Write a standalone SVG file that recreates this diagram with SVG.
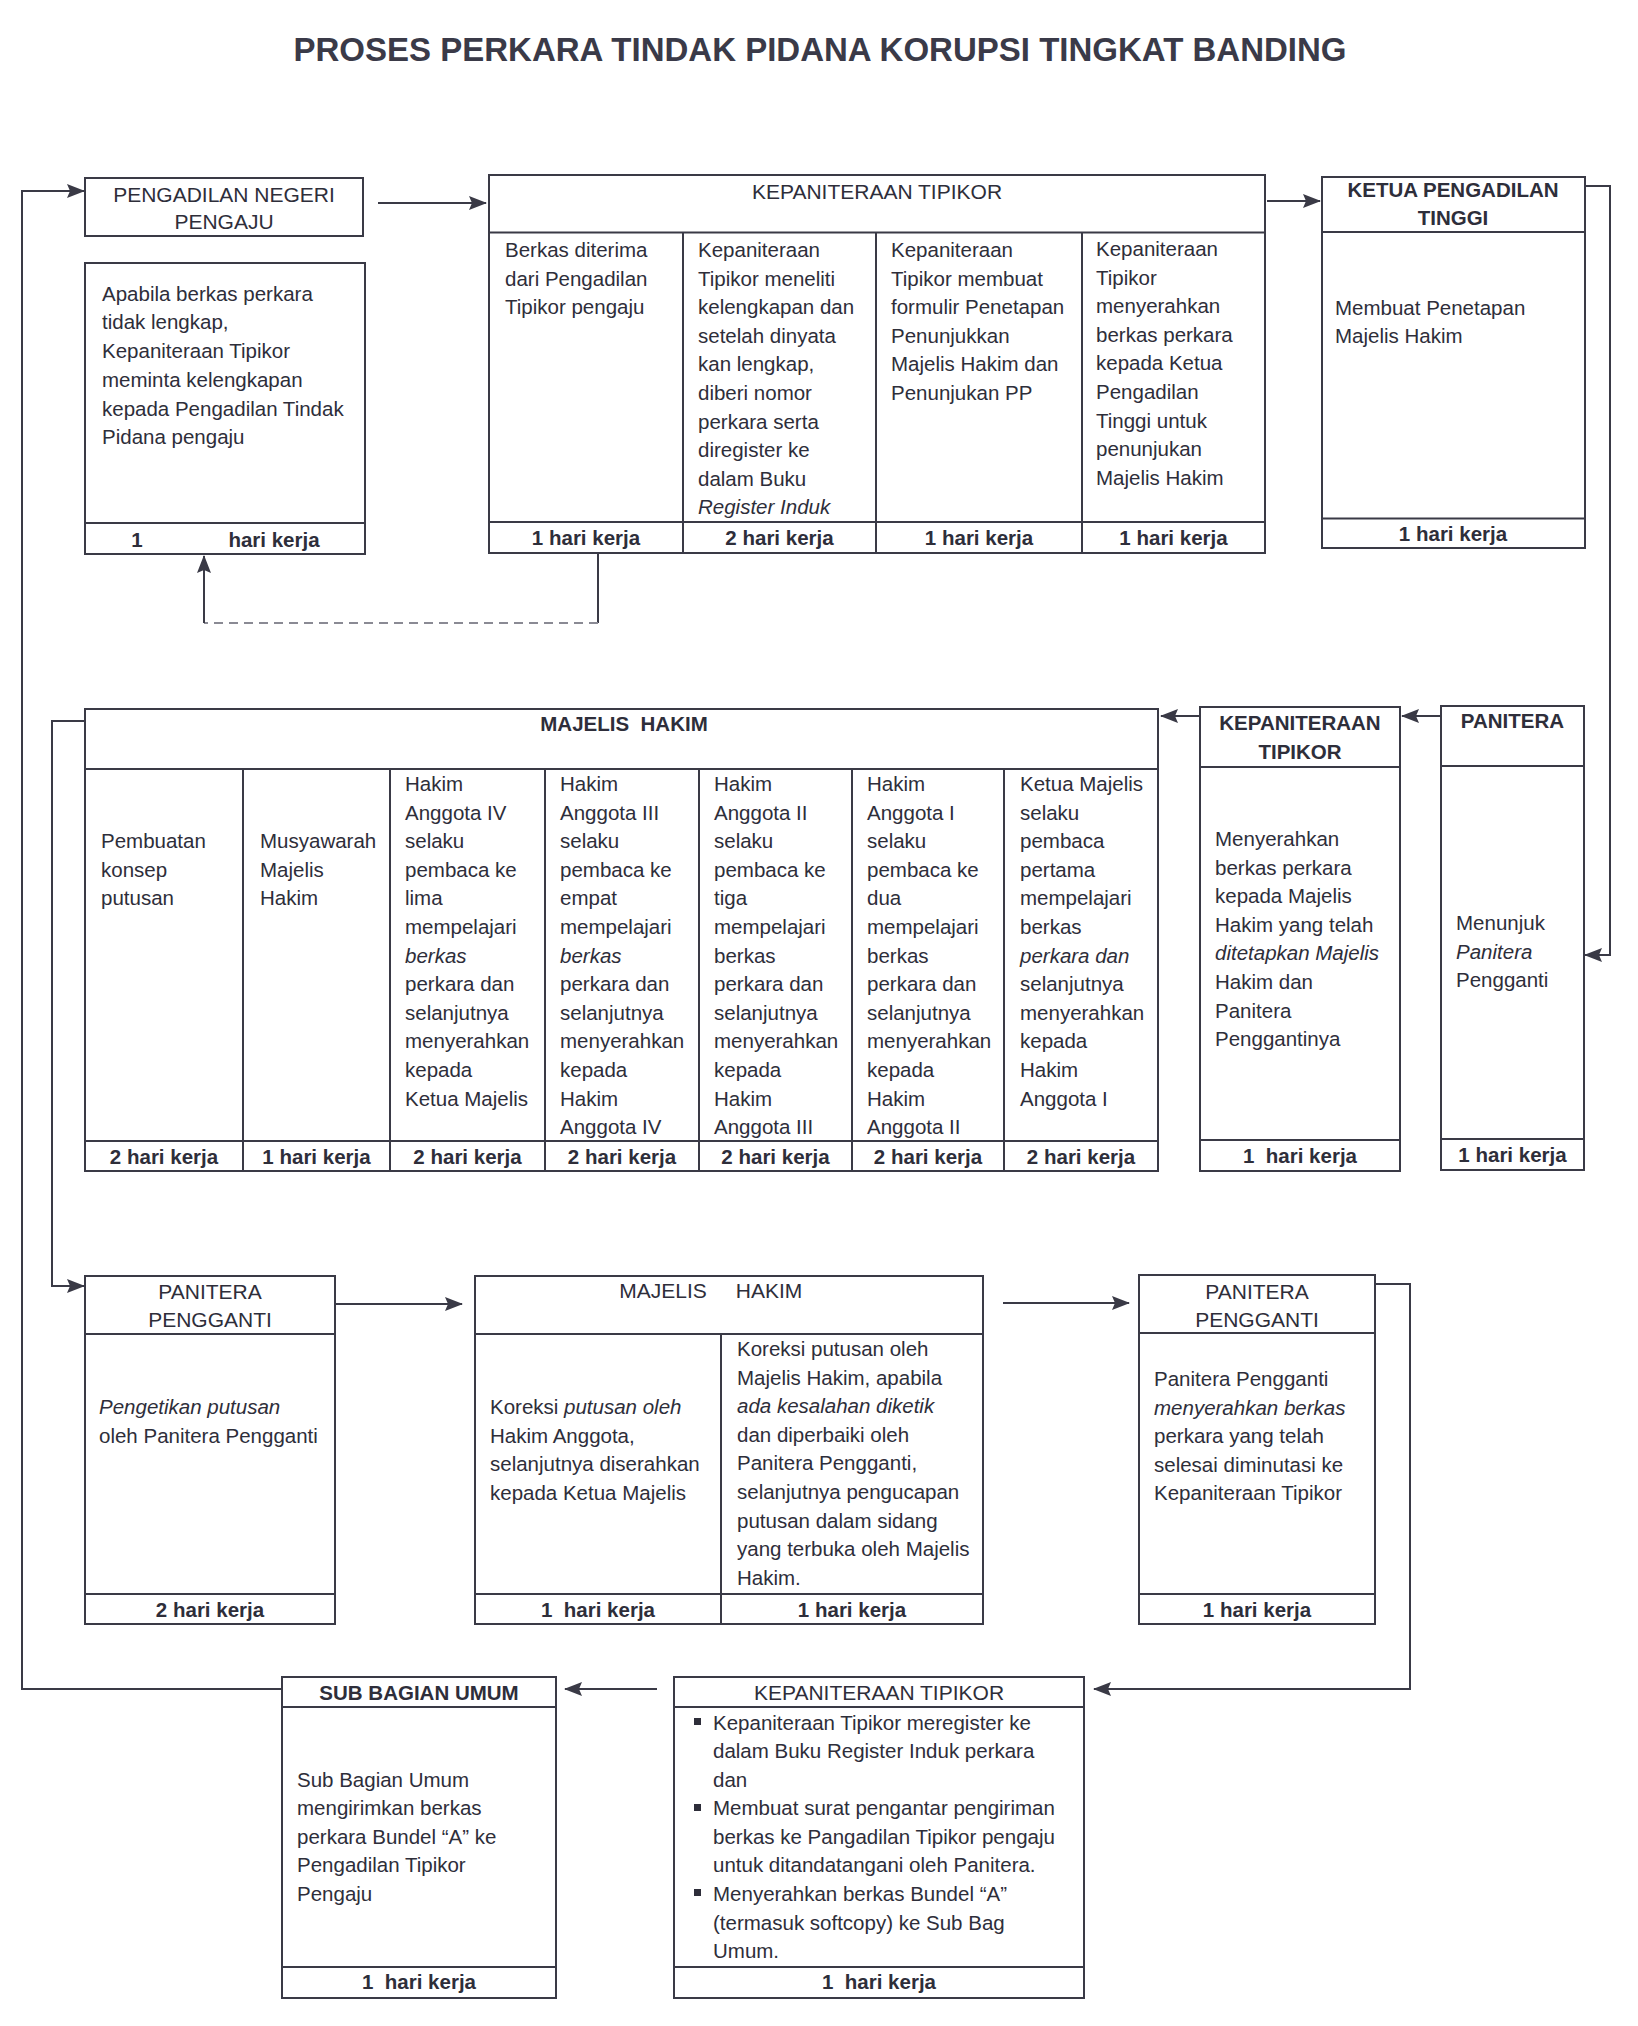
<svg xmlns="http://www.w3.org/2000/svg" width="1638" height="2026" viewBox="0 0 1638 2026">
<defs>
<marker id="ah" markerUnits="userSpaceOnUse" markerWidth="18" markerHeight="14" refX="17" refY="7" orient="auto"><path d="M0,0 L18,7 L0,14 L3,7 z" fill="#3a3a46"/></marker>
</defs>
<style>
.box{fill:#fff;stroke:#3a3a46;stroke-width:2}
.ln{stroke:#3a3a46;stroke-width:2;fill:none}
.dash{stroke:#8a8a94;stroke-width:2;fill:none;stroke-dasharray:9 6}
text{font-family:"Liberation Sans",Arial,sans-serif;fill:#2e2e3a;font-size:20.5px}
.title{font-size:33px;font-weight:bold;text-anchor:middle;fill:#3a3a48}
.h{font-size:21px;text-anchor:middle}
.hb{font-size:20.5px;font-weight:bold;text-anchor:middle}
.f{font-weight:bold;text-anchor:middle}
.i{font-style:italic}
</style>
<rect width="1638" height="2026" fill="#fff"/>
<text class="title" x="820" y="61">PROSES PERKARA TINDAK PIDANA KORUPSI TINGKAT BANDING</text>

<g id="connectors">
<polyline class="ln" points="282,1689 22,1689 22,191 84,191" marker-end="url(#ah)"/>
<line class="ln" x1="378" y1="203" x2="486" y2="203" marker-end="url(#ah)"/>
<line class="ln" x1="1267" y1="201" x2="1320" y2="201" marker-end="url(#ah)"/>
<polyline class="ln" points="1585,186 1610,186 1610,955 1585,955" marker-end="url(#ah)"/>
<line class="ln" x1="1440" y1="716" x2="1402" y2="716" marker-end="url(#ah)"/>
<line class="ln" x1="1200" y1="716" x2="1161" y2="716" marker-end="url(#ah)"/>
<polyline class="ln" points="85,721 52,721 52,1286 84,1286" marker-end="url(#ah)"/>
<line class="ln" x1="335" y1="1304" x2="462" y2="1304" marker-end="url(#ah)"/>
<line class="ln" x1="1003" y1="1303" x2="1129" y2="1303" marker-end="url(#ah)"/>
<polyline class="ln" points="1375,1284 1410,1284 1410,1689 1094,1689" marker-end="url(#ah)"/>
<line class="ln" x1="657" y1="1689" x2="565" y2="1689" marker-end="url(#ah)"/>
<polyline class="ln" points="598,553 598,623"/>
<polyline class="dash" points="598,623 204,623"/>
<polyline class="ln" points="204,623 204,556" marker-end="url(#ah)"/>
</g>

<g id="pengadilan-negeri">
<rect class="box" x="85" y="178" width="278" height="58"/>
<text class="h" x="224" y="201.5">PENGADILAN NEGERI</text>
<text class="h" x="224" y="229">PENGAJU</text>
<rect class="box" x="85" y="263" width="280" height="291"/>
<line class="ln" x1="85" y1="523" x2="365" y2="523"/>
<text x="102" y="300.7">Apabila berkas perkara</text>
<text x="102" y="329.4">tidak lengkap,</text>
<text x="102" y="358.1">Kepaniteraan Tipikor</text>
<text x="102" y="386.8">meminta kelengkapan</text>
<text x="102" y="415.5">kepada Pengadilan Tindak</text>
<text x="102" y="444.2">Pidana pengaju</text>
<text class="f" x="137" y="546.5">1</text>
<text class="f" x="274" y="546.5">hari kerja</text>
</g>

<g id="kepaniteraan-tipikor-1">
<rect class="box" x="489" y="175" width="776" height="378"/>
<line class="ln" x1="489" y1="232.5" x2="1265" y2="232.5"/>
<line class="ln" x1="489" y1="522" x2="1265" y2="522"/>
<line class="ln" x1="683" y1="232.5" x2="683" y2="553"/>
<line class="ln" x1="876" y1="232.5" x2="876" y2="553"/>
<line class="ln" x1="1082" y1="232.5" x2="1082" y2="553"/>
<text class="h" x="877" y="199">KEPANITERAAN TIPIKOR</text>
<text x="505" y="257">Berkas diterima</text>
<text x="505" y="285.6">dari Pengadilan</text>
<text x="505" y="314.2">Tipikor pengaju</text>
<text x="698" y="257">Kepaniteraan</text>
<text x="698" y="285.6">Tipikor meneliti</text>
<text x="698" y="314.2">kelengkapan dan</text>
<text x="698" y="342.8">setelah dinyata</text>
<text x="698" y="371.4">kan lengkap,</text>
<text x="698" y="400">diberi nomor</text>
<text x="698" y="428.6">perkara serta</text>
<text x="698" y="457.2">diregister ke</text>
<text x="698" y="485.8">dalam Buku</text>
<text class="i" x="698" y="514.4">Register Induk</text>
<text x="891" y="257">Kepaniteraan</text>
<text x="891" y="285.6">Tipikor membuat</text>
<text x="891" y="314.2">formulir Penetapan</text>
<text x="891" y="342.8">Penunjukkan</text>
<text x="891" y="371.4">Majelis Hakim dan</text>
<text x="891" y="400">Penunjukan PP</text>
<text x="1096" y="256">Kepaniteraan</text>
<text x="1096" y="284.6">Tipikor</text>
<text x="1096" y="313.2">menyerahkan</text>
<text x="1096" y="341.8">berkas perkara</text>
<text x="1096" y="370.4">kepada Ketua</text>
<text x="1096" y="399">Pengadilan</text>
<text x="1096" y="427.6">Tinggi untuk</text>
<text x="1096" y="456.2">penunjukan</text>
<text x="1096" y="484.8">Majelis Hakim</text>
<text class="f" x="586" y="545">1 hari kerja</text>
<text class="f" x="779.5" y="545">2 hari kerja</text>
<text class="f" x="979" y="545">1 hari kerja</text>
<text class="f" x="1173.5" y="545">1 hari kerja</text>
</g>

<g id="ketua-pengadilan-tinggi">
<rect class="box" x="1322" y="177" width="263" height="371"/>
<line class="ln" x1="1322" y1="232" x2="1585" y2="232"/>
<line class="ln" x1="1322" y1="518.5" x2="1585" y2="518.5"/>
<text class="hb" x="1453" y="196.5">KETUA PENGADILAN</text>
<text class="hb" x="1453" y="224.5">TINGGI</text>
<text x="1335" y="314.7">Membuat Penetapan</text>
<text x="1335" y="343">Majelis Hakim</text>
<text class="f" x="1453" y="541">1 hari kerja</text>
</g>

<g id="majelis-hakim-1">
<rect class="box" x="85" y="709" width="1073" height="462"/>
<line class="ln" x1="85" y1="769" x2="1158" y2="769"/>
<line class="ln" x1="85" y1="1141" x2="1158" y2="1141"/>
<line class="ln" x1="243" y1="769" x2="243" y2="1171"/>
<line class="ln" x1="390" y1="769" x2="390" y2="1171"/>
<line class="ln" x1="545" y1="769" x2="545" y2="1171"/>
<line class="ln" x1="699" y1="769" x2="699" y2="1171"/>
<line class="ln" x1="852" y1="769" x2="852" y2="1171"/>
<line class="ln" x1="1004" y1="769" x2="1004" y2="1171"/>
<text class="hb" x="624" y="731">MAJELIS&#160; HAKIM</text>
<text x="101" y="848.2">Pembuatan</text>
<text x="101" y="876.8">konsep</text>
<text x="101" y="905.4">putusan</text>
<text x="260" y="848.2">Musyawarah</text>
<text x="260" y="876.8">Majelis</text>
<text x="260" y="905.4">Hakim</text>
<text x="405" y="791">Hakim</text>
<text x="405" y="819.6">Anggota IV</text>
<text x="405" y="848.2">selaku</text>
<text x="405" y="876.8">pembaca ke</text>
<text x="405" y="905.4">lima</text>
<text x="405" y="934">mempelajari</text>
<text class="i" x="405" y="962.6">berkas</text>
<text x="405" y="991.2">perkara dan</text>
<text x="405" y="1019.8">selanjutnya</text>
<text x="405" y="1048.4">menyerahkan</text>
<text x="405" y="1077">kepada</text>
<text x="405" y="1105.6">Ketua Majelis</text>
<text x="560" y="791">Hakim</text>
<text x="560" y="819.6">Anggota III</text>
<text x="560" y="848.2">selaku</text>
<text x="560" y="876.8">pembaca ke</text>
<text x="560" y="905.4">empat</text>
<text x="560" y="934">mempelajari</text>
<text class="i" x="560" y="962.6">berkas</text>
<text x="560" y="991.2">perkara dan</text>
<text x="560" y="1019.8">selanjutnya</text>
<text x="560" y="1048.4">menyerahkan</text>
<text x="560" y="1077">kepada</text>
<text x="560" y="1105.6">Hakim</text>
<text x="560" y="1134.2">Anggota IV</text>
<text x="714" y="791">Hakim</text>
<text x="714" y="819.6">Anggota II</text>
<text x="714" y="848.2">selaku</text>
<text x="714" y="876.8">pembaca ke</text>
<text x="714" y="905.4">tiga</text>
<text x="714" y="934">mempelajari</text>
<text x="714" y="962.6">berkas</text>
<text x="714" y="991.2">perkara dan</text>
<text x="714" y="1019.8">selanjutnya</text>
<text x="714" y="1048.4">menyerahkan</text>
<text x="714" y="1077">kepada</text>
<text x="714" y="1105.6">Hakim</text>
<text x="714" y="1134.2">Anggota III</text>
<text x="867" y="791">Hakim</text>
<text x="867" y="819.6">Anggota I</text>
<text x="867" y="848.2">selaku</text>
<text x="867" y="876.8">pembaca ke</text>
<text x="867" y="905.4">dua</text>
<text x="867" y="934">mempelajari</text>
<text x="867" y="962.6">berkas</text>
<text x="867" y="991.2">perkara dan</text>
<text x="867" y="1019.8">selanjutnya</text>
<text x="867" y="1048.4">menyerahkan</text>
<text x="867" y="1077">kepada</text>
<text x="867" y="1105.6">Hakim</text>
<text x="867" y="1134.2">Anggota II</text>
<text x="1020" y="791">Ketua Majelis</text>
<text x="1020" y="819.6">selaku</text>
<text x="1020" y="848.2">pembaca</text>
<text x="1020" y="876.8">pertama</text>
<text x="1020" y="905.4">mempelajari</text>
<text x="1020" y="934">berkas</text>
<text class="i" x="1020" y="962.6">perkara dan</text>
<text x="1020" y="991.2">selanjutnya</text>
<text x="1020" y="1019.8">menyerahkan</text>
<text x="1020" y="1048.4">kepada</text>
<text x="1020" y="1077">Hakim</text>
<text x="1020" y="1105.6">Anggota I</text>
<text class="f" x="164" y="1164">2 hari kerja</text>
<text class="f" x="316.5" y="1164">1 hari kerja</text>
<text class="f" x="467.5" y="1164">2 hari kerja</text>
<text class="f" x="622" y="1164">2 hari kerja</text>
<text class="f" x="775.5" y="1164">2 hari kerja</text>
<text class="f" x="928" y="1164">2 hari kerja</text>
<text class="f" x="1081" y="1164">2 hari kerja</text>
</g>

<g id="kepaniteraan-tipikor-2">
<rect class="box" x="1200" y="707" width="200" height="464"/>
<line class="ln" x1="1200" y1="767" x2="1400" y2="767"/>
<line class="ln" x1="1200" y1="1140" x2="1400" y2="1140"/>
<text class="hb" x="1300" y="730">KEPANITERAAN</text>
<text class="hb" x="1300" y="758.5">TIPIKOR</text>
<text x="1215" y="846">Menyerahkan</text>
<text x="1215" y="874.6">berkas perkara</text>
<text x="1215" y="903.2">kepada Majelis</text>
<text x="1215" y="931.8">Hakim yang telah</text>
<text class="i" x="1215" y="960.4">ditetapkan Majelis</text>
<text x="1215" y="989">Hakim dan</text>
<text x="1215" y="1017.6">Panitera</text>
<text x="1215" y="1046.2">Penggantinya</text>
<text class="f" x="1300" y="1163">1&#160; hari kerja</text>
</g>

<g id="panitera">
<rect class="box" x="1441" y="706" width="143" height="464"/>
<line class="ln" x1="1441" y1="766" x2="1584" y2="766"/>
<line class="ln" x1="1441" y1="1139" x2="1584" y2="1139"/>
<text class="hb" x="1512.5" y="728">PANITERA</text>
<text x="1456" y="930">Menunjuk</text>
<text class="i" x="1456" y="958.6">Panitera</text>
<text x="1456" y="987.2">Pengganti</text>
<text class="f" x="1512.5" y="1162">1 hari kerja</text>
</g>

<g id="panitera-pengganti-1">
<rect class="box" x="85" y="1276" width="250" height="348"/>
<line class="ln" x1="85" y1="1334" x2="335" y2="1334"/>
<line class="ln" x1="85" y1="1594" x2="335" y2="1594"/>
<text class="h" x="210" y="1299">PANITERA</text>
<text class="h" x="210" y="1327">PENGGANTI</text>
<text class="i" x="99" y="1414">Pengetikan putusan</text>
<text x="99" y="1442.6">oleh Panitera Pengganti</text>
<text class="f" x="210" y="1617">2 hari kerja</text>
</g>

<g id="majelis-hakim-2">
<rect class="box" x="475" y="1276" width="508" height="348"/>
<line class="ln" x1="475" y1="1334" x2="983" y2="1334"/>
<line class="ln" x1="475" y1="1594" x2="983" y2="1594"/>
<line class="ln" x1="721" y1="1334" x2="721" y2="1624"/>
<text class="h" x="663" y="1298">MAJELIS</text>
<text class="h" x="769" y="1298">HAKIM</text>
<text x="490" y="1414">Koreksi <tspan class="i">putusan oleh</tspan></text>
<text x="490" y="1442.6">Hakim Anggota,</text>
<text x="490" y="1471.2">selanjutnya diserahkan</text>
<text x="490" y="1499.8">kepada Ketua Majelis</text>
<text x="737" y="1356">Koreksi putusan oleh</text>
<text x="737" y="1384.6">Majelis Hakim, apabila</text>
<text class="i" x="737" y="1413.2">ada kesalahan diketik</text>
<text x="737" y="1441.8">dan diperbaiki oleh</text>
<text x="737" y="1470.4">Panitera Pengganti,</text>
<text x="737" y="1499">selanjutnya pengucapan</text>
<text x="737" y="1527.6">putusan dalam sidang</text>
<text x="737" y="1556.2">yang terbuka oleh Majelis</text>
<text x="737" y="1584.8">Hakim.</text>
<text class="f" x="598" y="1617">1&#160; hari kerja</text>
<text class="f" x="852" y="1617">1 hari kerja</text>
</g>

<g id="panitera-pengganti-2">
<rect class="box" x="1139" y="1275" width="236" height="349"/>
<line class="ln" x1="1139" y1="1333" x2="1375" y2="1333"/>
<line class="ln" x1="1139" y1="1594" x2="1375" y2="1594"/>
<text class="h" x="1257" y="1298.5">PANITERA</text>
<text class="h" x="1257" y="1327">PENGGANTI</text>
<text x="1154" y="1386">Panitera Pengganti</text>
<text class="i" x="1154" y="1414.6">menyerahkan berkas</text>
<text x="1154" y="1443.2">perkara yang telah</text>
<text x="1154" y="1471.8">selesai diminutasi ke</text>
<text x="1154" y="1500.4">Kepaniteraan Tipikor</text>
<text class="f" x="1257" y="1617">1 hari kerja</text>
</g>

<g id="kepaniteraan-tipikor-3">
<rect class="box" x="674" y="1677" width="410" height="321"/>
<line class="ln" x1="674" y1="1707" x2="1084" y2="1707"/>
<line class="ln" x1="674" y1="1967" x2="1084" y2="1967"/>
<text class="h" x="879" y="1699.5">KEPANITERAAN TIPIKOR</text>
<rect x="694" y="1718" width="7" height="7" fill="#2e2e3a"/>
<rect x="694" y="1804" width="7" height="7" fill="#2e2e3a"/>
<rect x="694" y="1889" width="7" height="7" fill="#2e2e3a"/>
<text x="713" y="1729.5">Kepaniteraan Tipikor meregister ke</text>
<text x="713" y="1758">dalam Buku Register Induk perkara</text>
<text x="713" y="1786.6">dan</text>
<text x="713" y="1815.2">Membuat surat pengantar pengiriman</text>
<text x="713" y="1843.8">berkas ke Pangadilan Tipikor pengaju</text>
<text x="713" y="1872.4">untuk ditandatangani oleh Panitera.</text>
<text x="713" y="1901">Menyerahkan berkas Bundel “A”</text>
<text x="713" y="1929.6">(termasuk softcopy) ke Sub Bag</text>
<text x="713" y="1958.2">Umum.</text>
<text class="f" x="879" y="1989">1&#160; hari kerja</text>
</g>

<g id="sub-bagian-umum">
<rect class="box" x="282" y="1677" width="274" height="321"/>
<line class="ln" x1="282" y1="1707" x2="556" y2="1707"/>
<line class="ln" x1="282" y1="1967" x2="556" y2="1967"/>
<text class="hb" x="419" y="1699.5">SUB BAGIAN UMUM</text>
<text x="297" y="1786.6">Sub Bagian Umum</text>
<text x="297" y="1815.2">mengirimkan berkas</text>
<text x="297" y="1843.8">perkara Bundel “A” ke</text>
<text x="297" y="1872.4">Pengadilan Tipikor</text>
<text x="297" y="1901">Pengaju</text>
<text class="f" x="419" y="1989">1&#160; hari kerja</text>
</g>
</svg>
